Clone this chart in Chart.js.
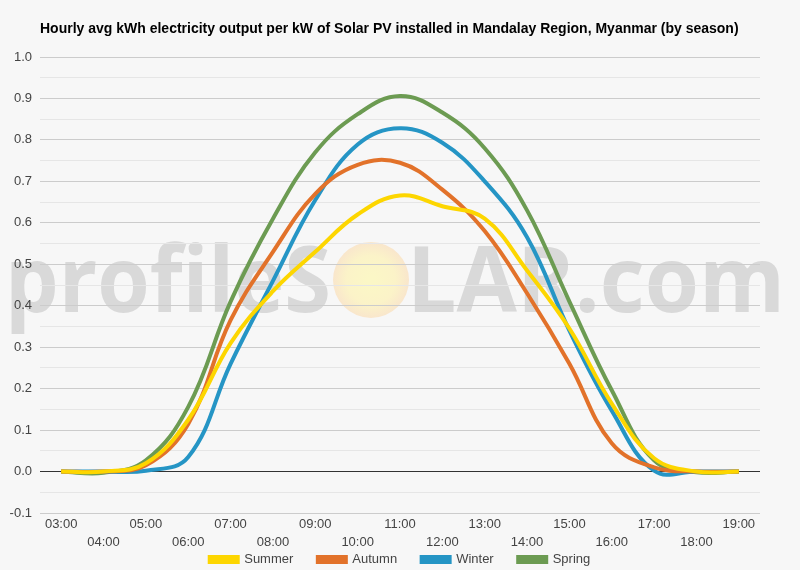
<!DOCTYPE html>
<html>
<head>
<meta charset="utf-8">
<script src="https://cdn.jsdelivr.net/npm/chart.js@4/dist/chart.umd.min.js"></script>
<style>
  html, body { margin: 0; padding: 0; background: #f7f7f7; }
  #wrap { width: 800px; height: 570px; }
</style>
</head>
<body>
<div id="wrap"><canvas id="chart" width="800" height="570"></canvas></div>
<script>
// hours of the day
var hours = ['03:00','04:00','05:00','06:00','07:00','08:00','09:00','10:00','11:00',
             '12:00','13:00','14:00','15:00','16:00','17:00','18:00','19:00'];

// avg kWh per kW, one value per hour
var summer = [0, 0, 0.02, 0.125, 0.31, 0.435, 0.53, 0.62, 0.666, 0.64, 0.61, 0.485, 0.345, 0.164, 0.032, 0, 0];
var autumn = [0, 0, 0.015, 0.115, 0.365, 0.53, 0.67, 0.74, 0.745, 0.68, 0.58, 0.43, 0.26, 0.068, 0.01, 0, 0];
var winter = [0, 0, 0.002, 0.035, 0.26, 0.46, 0.655, 0.789, 0.828, 0.793, 0.70, 0.565, 0.34, 0.147, 0.002, 0, 0];
var spring = [0, -0.003, 0.027, 0.156, 0.41, 0.61, 0.77, 0.862, 0.906, 0.866, 0.78, 0.63, 0.41, 0.196, 0.027, -0.002, 0];

var seriesNames = ['Summer', 'Autumn', 'Winter', 'Spring'];
var seriesColors = ['#fdd600', '#e2722a', '#2595c5', '#6c9b52'];

var titleText = 'Hourly avg kWh electricity output per kW of Solar PV installed in Mandalay Region, Myanmar (by season)';

// background, watermark and title
var backdrop = {
    id: 'backdrop',
    beforeDraw: function(chart){
        var ctx = chart.ctx;
        ctx.save();
        ctx.fillStyle = '#f7f7f7';
        ctx.fillRect(0, 0, chart.width, chart.height);

        // sun
        var g = ctx.createRadialGradient(371, 280, 4, 371, 280, 38);
        g.addColorStop(0, '#fbf7c6');
        g.addColorStop(0.6, '#fbf3c8');
        g.addColorStop(1, '#f9e6cc');
        ctx.fillStyle = g;
        ctx.beginPath();
        ctx.arc(371, 280, 38, 0, Math.PI * 2);
        ctx.fill();

        ctx.fillStyle = '#d9d9d9';
        ctx.font = 'bold 92px "Open Sans", Arial, sans-serif';
        ctx.textBaseline = 'alphabetic';
        var w1 = ctx.measureText('profileS').width;
        ctx.save();
        ctx.translate(5, 312);
        ctx.scale(326 / w1, 1);
        ctx.fillText('profileS', 0, 0);
        ctx.restore();
        var w2 = ctx.measureText('LAR.com').width;
        ctx.save();
        ctx.translate(407, 312);
        ctx.scale(378 / w2, 1);
        ctx.fillText('LAR.com', 0, 0);
        ctx.restore();

        ctx.fillStyle = '#000';
        ctx.font = 'bold 14px "Liberation Sans", Arial, sans-serif';
        ctx.fillText(titleText, 40, 33);
        ctx.restore();
    }
};

var datasets = [summer, autumn, winter, spring].map(function(values, i){
    return {
        label: seriesNames[i],
        data: values,
        borderColor: seriesColors[i],
        backgroundColor: seriesColors[i],
        borderWidth: 4,
        pointRadius: 0,
        tension: 0.4,
        fill: false
    };
});

Chart.defaults.font.family = '"Liberation Sans", Arial, sans-serif';
Chart.defaults.font.size = 13;
Chart.defaults.color = '#444';

new Chart(document.getElementById('chart'), {
    type: 'line',
    data: { labels: hours, datasets: datasets },
    plugins: [backdrop],
    options: {
        responsive: false,
        animation: false,
        layout: { padding: { top: 57, right: 0, left: 0, bottom: -6 } },
        plugins: {
            legend: {
                position: 'bottom',
                labels: {
                    boxWidth: 28, boxHeight: 5, padding: 5, color: '#444', font: { size: 13 },
                    // wider gaps between legend entries
                    generateLabels: function(chart){
                        var items = Chart.defaults.plugins.legend.labels.generateLabels(chart);
                        items.forEach(function(it, i){
                            if (i < items.length - 1) it.text = it.text + '\u2002\u2002\u2002';
                        });
                        return items;
                    }
                }
            },
            tooltip: { enabled: false }
        },
        scales: {
            x: {
                offset: true,
                grid: { display: false, drawTicks: false },
                border: { display: false },
                ticks: {
                    autoSkip: false,
                    maxRotation: 0,
                    padding: 2,
                    font: { size: 13, lineHeight: 1.4 },
                    callback: function(v, i){
                        return i % 2 == 0 ? hours[i] : ['', hours[i]];
                    }
                },
                afterFit: function(scale){ scale.height = 35; }
            },
            y: {
                min: -0.1,
                max: 1.0,
                border: { display: false },
                grid: {
                    drawTicks: false,
                    color: function(c){
                        var v = Math.round(c.tick.value * 100);
                        if (v == 0) return '#333';
                        return v % 10 == 0 ? '#cccccc' : '#e6e6e6';
                    }
                },
                ticks: {
                    stepSize: 0.05,
                    padding: 8,
                    callback: function(v){
                        return Math.round(v * 100) % 10 == 0 ? v.toFixed(1) : '';
                    }
                },
                afterFit: function(scale){ scale.width = 40; }
            },
            // empty right margin so the legend centres on the full width
            yr: {
                position: 'right',
                grid: { display: false, drawTicks: false },
                border: { display: false },
                ticks: { display: false },
                afterFit: function(scale){ scale.width = 40; }
            }
        }
    }
});
</script>
</body>
</html>
